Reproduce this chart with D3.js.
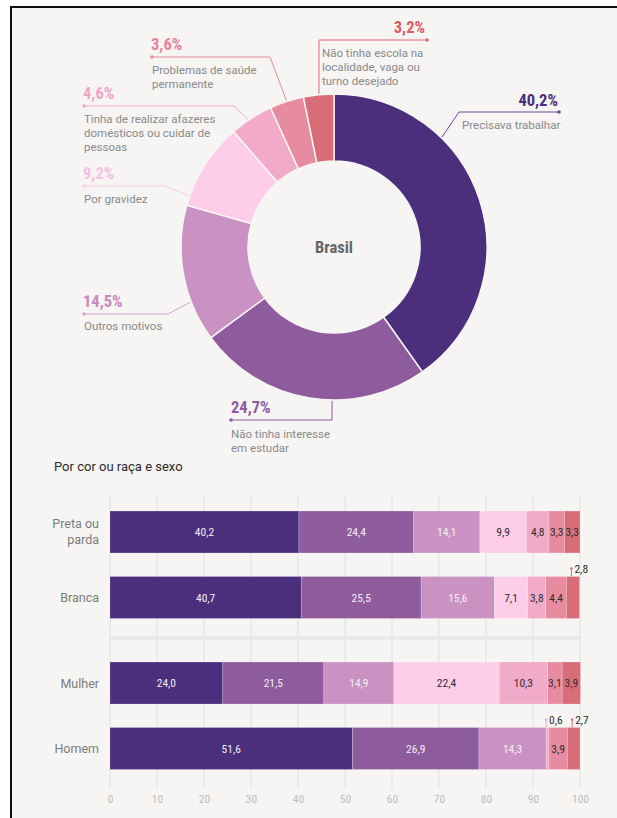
<!DOCTYPE html>
<html><head><meta charset="utf-8">
<script src="https://cdn.jsdelivr.net/npm/d3@7"></script>
<style>
html,body{margin:0;padding:0;background:#fff;}
svg{display:block;}
</style></head><body>
<svg id="c" width="617" height="818"></svg>
<script>
// ---------- DATA ----------
const categories = ["Precisava trabalhar","Não tinha interesse em estudar","Outros motivos","Por gravidez","Tinha de realizar afazeres domésticos ou cuidar de pessoas","Problemas de saúde permanente","Não tinha escola na localidade, vaga ou turno desejado"];
const brasilValues = [40.2,24.7,14.5,9.2,4.6,3.6,3.2];
const rowNames = ["Preta ou parda","Branca","Mulher","Homem"];
const pretaParda = [40.2,24.4,14.1,9.9,4.8,3.3,3.3];
const branca = [40.7,25.5,15.6,7.1,3.8,4.4,2.8];
const mulher = [24.0,21.5,14.9,22.4,10.3,3.1,3.9];
const homem = [51.6,26.9,14.3,0,0.6,3.9,2.7];
const xTicks = [0,10,20,30,40,50,60,70,80,90,100];
const centerLabel = "Brasil";
const barTitle = "Por cor ou raça e sexo";

// ---------- STYLE / LAYOUT ----------
const colors = ["#4b2e7c","#8e5c9d","#c992c3","#fecdea","#f2aac9","#e78ba0","#d86d77"];
const pctColors = ["#4b2e7c","#8e5c9d","#c58ac0","#f7bfe0","#f2a3c6","#e8819a","#dc5b68"];
const lineColors = ["#6a4a94","#8e5c9d","#d4a2cf","#fbc8e6","#f2aac9","#e88aa0","#dc6b75"];
const narrow = "'Liberation Sans Narrow','Roboto Condensed','DejaVu Sans Condensed',Roboto,sans-serif";
const regular = "Roboto,'Liberation Sans',sans-serif";
const cx = 334, cy = 247, rOut = 153, rIn = 86;

// annotation layout (one per category, same order)
const donutLabels = [
  {angle:44.5, elbow:[459,112], dot:[559,112], pctX:558, pctY:106, pctAnchor:"end", textX:462, textY:129, lines:["Precisava trabalhar"]},
  {angle:180.7, elbow:[332,420], dot:[231,420], pctX:231, pctY:413, pctAnchor:"start", textX:231, textY:438, lines:["Não tinha interesse","em estudar"]},
  {angle:249, elbow:[168,314], dot:[84,314], pctX:83, pctY:307, pctAnchor:"start", textX:84, textY:330, lines:["Outros motivos"]},
  {angle:289.5, elbow:[165,186], dot:[84,186], pctX:83, pctY:179, pctAnchor:"start", textX:84, textY:203, lines:["Por gravidez"]},
  {angle:326, elbow:[234,106], dot:[84,106], pctX:83, pctY:99, pctAnchor:"start", textX:84, textY:123, lines:["Tinha de realizar afazeres","domésticos ou cuidar de","pessoas"]},
  {angle:342, elbow:[270,57], dot:[152,57], pctX:151, pctY:50, pctAnchor:"start", textX:152, textY:74, lines:["Problemas de saúde","permanente"]},
  {angle:354.4, elbow:[319,40], dot:[427,40], pctX:425, pctY:33, pctAnchor:"end", textX:322, textY:57, lines:["Não tinha escola na","localidade, vaga ou","turno desejado"]}
];

const fmt = v => d3.format(".1f")(v).replace(".", ",");

const svg = d3.select("#c");

// frame + background
svg.append("rect").attr("x",11).attr("y",7).attr("width",640).attr("height",840)
  .attr("fill","#f6f5f3").attr("stroke","#111").attr("stroke-width",2);

// ---------- DONUT ----------
const pie = d3.pie().sort(null).value(d => d)(brasilValues);
const arc = d3.arc().innerRadius(rIn).outerRadius(rOut);
const g = svg.append("g").attr("transform",`translate(${cx},${cy})`);
g.selectAll("path").data(pie).join("path")
  .attr("d", arc).attr("fill",(d,i)=>colors[i])
  .attr("stroke","#f6f5f3").attr("stroke-width",1.5);

g.append("text").attr("text-anchor","middle").attr("dy","0.36em")
  .attr("font-family",narrow).attr("font-weight","bold").attr("font-size",16.5)
  .attr("fill","#666").text(centerLabel);

donutLabels.forEach((L,i) => {
  const p = d3.pointRadial(L.angle*Math.PI/180, rOut+1);
  const end = [cx+p[0], cy+p[1]];
  svg.append("polyline")
    .attr("points",[L.dot, L.elbow, end].map(q=>q.join(",")).join(" "))
    .attr("fill","none").attr("stroke",lineColors[i]).attr("stroke-width",1);
  svg.append("circle").attr("cx",L.dot[0]).attr("cy",L.dot[1]).attr("r",1.8).attr("fill",lineColors[i]);
  svg.append("text").attr("x",L.pctX).attr("y",L.pctY).attr("text-anchor",L.pctAnchor)
    .attr("font-family",narrow).attr("font-weight","bold").attr("font-size",16.5)
    .attr("fill",pctColors[i]).text(fmt(brasilValues[i])+"%");
  const t = svg.append("text").attr("font-family",regular).attr("font-size",11.5).attr("fill","#8a8a8a");
  L.lines.forEach((ln,k)=> t.append("tspan").attr("x",L.textX).attr("y",L.textY+k*14).text(ln));
});

// ---------- BARS ----------
svg.append("text").attr("x",54).attr("y",471).attr("font-family",regular).attr("font-size",13)
  .attr("fill","#2a2a2a").text(barTitle);

const rows = [pretaParda, branca, mulher, homem];
const rowGroup = [0,0,1,1];
const x = d3.scaleLinear().domain([0,100]).range([110,580]);
const y = d3.scaleBand().domain(rowNames).range([511,749.5]).paddingInner(0.3588).paddingOuter(0);
const yTop = (name,i) => y(name) + rowGroup[i]*20;
const bh = y.bandwidth();

// gridlines
svg.append("g").selectAll("line").data(xTicks).join("line")
  .attr("x1",d=>x(d)).attr("x2",d=>x(d)).attr("y1",495).attr("y2",789)
  .attr("stroke","#e0e0e0").attr("stroke-width",1);
// group separator
svg.append("rect").attr("x",x(0)).attr("y",636).attr("width",x(100)-x(0)).attr("height",3.5).attr("fill","#e8e8e8");

// axis
const ax = svg.append("g").attr("transform","translate(0,795)")
  .call(d3.axisBottom(x).tickValues(xTicks).tickSize(0).tickPadding(0).tickFormat(d=>d));
ax.select(".domain").remove();
ax.selectAll("text").attr("font-family",narrow).attr("font-size",11.5).attr("fill","#bdbdbd").attr("dy","0.71em");

// callout (outside label) positions: [row, category]
const callouts = [[1,6],[3,4],[3,6]];
const isCallout = (r,c) => callouts.some(a=>a[0]===r && a[1]===c);

rows.forEach((vals,ri) => {
  const name = rowNames[ri];
  const top = yTop(name,ri);
  let acc = 0;
  const segs = vals.map((v,ci)=>{ const s={v,ci,x0:acc,x1:acc+v}; acc+=v; return s; });
  const rg = svg.append("g");
  rg.selectAll("rect").data(segs.filter(s=>s.v>0)).join("rect")
    .attr("x",s=>x(s.x0)).attr("width",s=>x(s.x1)-x(s.x0))
    .attr("y",top).attr("height",bh).attr("fill",s=>colors[s.ci])
    .attr("stroke","rgba(255,255,255,0.35)").attr("stroke-width",0.6);
  rg.selectAll("text.v").data(segs.filter(s=>s.v>0 && !isCallout(ri,s.ci))).join("text").attr("class","v")
    .attr("x",s=>x((s.x0+s.x1)/2)).attr("y",top+bh/2).attr("dy","0.36em").attr("text-anchor","middle")
    .attr("font-family",narrow).attr("font-size",11.5)
    .attr("fill",s=>s.ci<3?"#f3eef7":"#2e2e2e").text(s=>fmt(s.v));
  segs.filter(s=>s.v>0 && isCallout(ri,s.ci)).forEach(s=>{
    const mx = x((s.x0+s.x1)/2) - 1.5;
    rg.append("line").attr("x1",mx).attr("x2",mx).attr("y1",top).attr("y2",top-8)
      .attr("stroke",colors[s.ci]).attr("stroke-width",1);
    rg.append("circle").attr("cx",mx).attr("cy",top-8).attr("r",1.2).attr("fill",colors[s.ci]);
    rg.append("text").attr("x",mx+3).attr("y",top-8).attr("dy","0.36em")
      .attr("font-family",narrow).attr("font-size",11.5).attr("fill","#2e2e2e").text(fmt(s.v));
  });
  // row label
  const parts = name==="Preta ou parda" ? ["Preta ou","parda"] : [name];
  const lt = svg.append("text").attr("text-anchor","end").attr("font-family",regular)
    .attr("font-size",12.5).attr("fill","#7c7c7c");
  parts.forEach((p,k)=> lt.append("tspan").attr("x",99)
    .attr("y", top+bh/2 + (k-(parts.length-1)/2)*16).attr("dy","0.36em").text(p));
});
</script>
</body></html>
